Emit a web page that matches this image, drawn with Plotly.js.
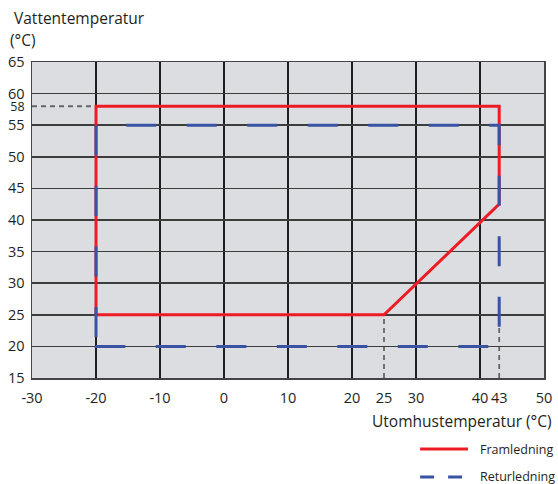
<!DOCTYPE html>
<html>
<head>
<meta charset="utf-8">
<script src="https://cdn.plot.ly/plotly-3.0.1.min.js"></script>
<style>html,body{margin:0;padding:0;background:#fff;}#chart{width:558px;height:484px;}</style>
</head>
<body>
<div id="chart"></div>
<script>
// Data
const seriesNames = ['Framledning', 'Returledning'];
const framX = [-20, -20, 43, 43, 25, -20];
const framY = [25, 58, 58, 42.5, 25, 25];
const returX = [-20, -20, 43, 43, -20, -20];
const returY = [21.5, 55, 55, 20, 20, 21.5];

const xTickVals = [-30, -20, -10, 0, 10, 20, 25, 30, 40, 43, 50];
const xTickText = ['-30', '-20', '-10', '0', '10', '20', '25', '30', '40', '43', '50'];
const xGridVals = [-20, -10, 0, 10, 20, 30, 40];
const yTickVals = [15, 20, 25, 30, 35, 40, 45, 50, 55, 58, 60, 65];
const yTickText = ['15', '20', '25', '30', '35', '40', '45', '50', '55',
                   '<span style="font-size:12.5px">58</span>', '60', '65'];
const yGridVals = [20, 25, 30, 35, 40, 45, 50, 55, 60];

// reference (helper) lines: [x0, y0, x1, y1]
const helperLines = [
  [-30, 58, -20, 58],
  [25, 15, 25, 25],
  [43, 15, 43, 25]
];

const FONT = '"Open Sans", "Noto Sans", sans-serif';
const RED = '#ed1c24';
const BLUE = '#3953a4';
const TXT = '#231f20';

const traces = [
  {x: framX, y: framY, mode: 'lines', name: seriesNames[0], showlegend: false,
   line: {color: RED, width: 3}, hoverinfo: 'x+y'},
  {x: returX, y: returY, mode: 'lines', name: seriesNames[1], showlegend: false,
   line: {color: BLUE, width: 3, dash: '30px,30.5px'}, hoverinfo: 'x+y'}
];

const shapes = helperLines.map(l => ({
  type: 'line', xref: 'x', yref: 'y', x0: l[0], y0: l[1], x1: l[2], y1: l[3],
  layer: 'below', line: {color: '#666', width: 1.8, dash: '5px,4px'}
}));

// manual legend (bottom right, below the plot)
shapes.push({type: 'line', xref: 'paper', yref: 'paper', x0: 0.758, x1: 0.8516, y0: -0.2247, y1: -0.2247,
  line: {color: RED, width: 3}});
shapes.push({type: 'line', xref: 'paper', yref: 'paper', x0: 0.758, x1: 0.8516, y0: -0.313, y1: -0.313,
  line: {color: BLUE, width: 3, dash: '14px,14px'}});

const annotations = [
  {xref: 'paper', yref: 'paper', x: -0.039, y: 1.1392, xanchor: 'left', yanchor: 'middle',
   text: 'Vattentemperatur', showarrow: false, font: {family: FONT, size: 15.5, color: TXT}},
  {xref: 'paper', yref: 'paper', x: -0.047, y: 1.0696, xanchor: 'left', yanchor: 'middle',
   text: '(°C)', showarrow: false, font: {family: FONT, size: 15.5, color: TXT}},
  {xref: 'paper', yref: 'paper', x: 1, y: -0.136, xanchor: 'right', yanchor: 'middle', xshift: 10,
   text: 'Utomhustemperatur (°C)', showarrow: false, font: {family: FONT, size: 15.5, color: TXT}},
  {xref: 'paper', yref: 'paper', x: 0.871, y: -0.2247, xanchor: 'left', yanchor: 'middle',
   text: seriesNames[0], showarrow: false, font: {family: FONT, size: 12.5, color: TXT}},
  {xref: 'paper', yref: 'paper', x: 0.871, y: -0.313, xanchor: 'left', yanchor: 'middle',
   text: seriesNames[1], showarrow: false, font: {family: FONT, size: 12.5, color: TXT}}
];

const layout = {
  width: 558, height: 484,
  margin: {l: 32, r: 14, t: 62, b: 106, pad: 0},
  paper_bgcolor: '#ffffff',
  plot_bgcolor: '#dcdde0',
  font: {family: FONT, size: 14.5, color: TXT},
  showlegend: false,
  xaxis: {
    range: [-30, 50], tickmode: 'array', tickvals: xTickVals, ticktext: xTickText,
    tickangle: 0, ticks: '', showgrid: false, zeroline: false,
    showline: true, mirror: true, linecolor: '#444', linewidth: 1.5,
    ticklabelstandoff: 6,
    tickfont: {family: FONT, size: 14.5, color: TXT},
    minor: {tickmode: 'array', tickvals: xGridVals, showgrid: true, gridcolor: '#1e1e1e', gridwidth: 1.2, ticks: ''}
  },
  yaxis: {
    range: [15, 65], tickmode: 'array', tickvals: yTickVals, ticktext: yTickText,
    ticks: '', showgrid: false, zeroline: false,
    showline: true, mirror: true, linecolor: '#444', linewidth: 1.5,
    ticklabelstandoff: 3,
    tickfont: {family: FONT, size: 14.5, color: TXT},
    minor: {tickmode: 'array', tickvals: yGridVals, showgrid: true, gridcolor: '#3c3c3c', gridwidth: 1.5, ticks: ''}
  },
  shapes: shapes,
  annotations: annotations
};

Plotly.newPlot('chart', traces, layout, {displayModeBar: false, staticPlot: true});
</script>
</body>
</html>
